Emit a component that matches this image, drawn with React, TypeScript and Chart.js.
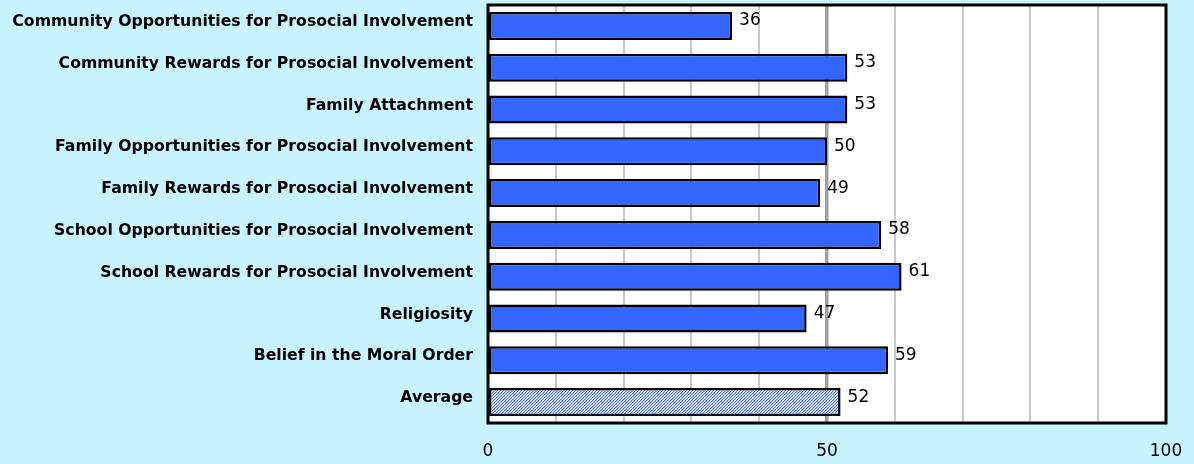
import React, { useEffect, useRef } from "react";
import { Chart, registerables } from "chart.js";

Chart.register(...registerables);

const categories: string[] = [
  "Community Opportunities for Prosocial Involvement",
  "Community Rewards for Prosocial Involvement",
  "Family Attachment",
  "Family Opportunities for Prosocial Involvement",
  "Family Rewards for Prosocial Involvement",
  "School Opportunities for Prosocial Involvement",
  "School Rewards for Prosocial Involvement",
  "Religiosity",
  "Belief in the Moral Order",
  "Average",
];
const values: number[] = [36, 53, 53, 50, 49, 58, 61, 47, 59, 52];
const tickLabels: number[] = [0, 50, 100];
const gridSteps: number[] = [0, 10, 20, 30, 40, 50, 60, 70, 80, 90, 100];

const BG = "#c8f3ff";
const BAR = "#3366ff";
const FONT = "DejaVu Sans";

function makeHatch(): CanvasPattern | string {
  const c = document.createElement("canvas");
  c.width = 3;
  c.height = 3;
  const g = c.getContext("2d");
  if (!g) return "#9fb5ff";
  g.fillStyle = "#ffffff";
  g.fillRect(0, 0, 3, 3);
  for (let i = 0; i < 3; i++) {
    g.fillStyle = "#4470ff";
    g.fillRect(i, 2 - i, 1, 1);
    g.fillStyle = "#b4c6ff";
    g.fillRect((i + 1) % 3, 2 - i, 1, 1);
  }
  const p = g.createPattern(c, "repeat");
  return p || "#9fb5ff";
}

export default function App() {
  const ref = useRef<HTMLCanvasElement | null>(null);

  useEffect(() => {
    document.body.style.margin = "0";
    const canvas = ref.current;
    if (!canvas) return;
    const hatch = makeHatch();
    const colors = values.map((_, i) => (i === values.length - 1 ? hatch : BAR));

    const framePlugin = {
      id: "frame",
      beforeDraw(chart: any) {
        const { ctx, chartArea } = chart;
        ctx.save();
        ctx.fillStyle = "#ffffff";
        ctx.fillRect(chartArea.left, chartArea.top, chartArea.right - chartArea.left, chartArea.bottom - chartArea.top);
        ctx.restore();
      },
      afterDraw(chart: any) {
        const { ctx, chartArea } = chart;
        const { left, top, right, bottom } = chartArea;
        ctx.save();
        ctx.strokeStyle = "#000";
        ctx.lineWidth = 3;
        ctx.strokeRect(left, top, right - left, bottom - top);
        const meta = chart.getDatasetMeta(0);
        ctx.fillStyle = "#000";
        ctx.font = "17px 'DejaVu Sans'";
        ctx.textAlign = "left";
        ctx.textBaseline = "middle";
        meta.data.forEach((el: any, i: number) => {
          ctx.fillText(String(values[i]), el.x + 7, el.y - 5);
        });
        ctx.restore();
      },
    };

    const chart = new Chart(canvas, {
      type: "bar",
      data: {
        labels: categories,
        datasets: [
          {
            data: values,
            backgroundColor: colors as any,
            borderColor: "#000000",
            borderWidth: 2.5,
            borderSkipped: false,
            barPercentage: 0.67,
            categoryPercentage: 1,
          },
        ],
      },
      options: {
        indexAxis: "y",
        animation: false,
        responsive: false,
        maintainAspectRatio: false,
        layout: { padding: { top: 5, right: 28, left: 0, bottom: 0 } },
        plugins: { legend: { display: false }, tooltip: { enabled: false } },
        scales: {
          x: {
            min: 0,
            max: 100,
            border: { display: false },
            afterFit(scale: any) {
              scale.height = 41;
              scale.paddingLeft = 0;
              scale.paddingRight = 0;
            },
            afterBuildTicks(scale: any) {
              scale.ticks = gridSteps.map((v) => ({ value: v }));
            },
            grid: {
              drawTicks: false,
              color: (c: any) => (c.tick && c.tick.value === 50 ? "#a0a0a0" : "#c8c8c8"),
              lineWidth: (c: any) => (c.tick && c.tick.value === 50 ? 3.5 : 2),
            },
            ticks: {
              padding: 18,
              autoSkip: false,
              maxRotation: 0,
              color: "#000",
              font: { family: FONT, size: 17 },
              callback: (v: any) => (tickLabels.includes(Number(v)) ? String(v) : ""),
            },
          },
          y: {
            border: { display: false },
            afterFit(scale: any) {
              scale.width = 488;
              scale.paddingTop = 0;
              scale.paddingBottom = 0;
            },
            grid: { display: false, drawTicks: false },
            ticks: {
              padding: 15,
              labelOffset: -4,
              color: "#000",
              font: { family: FONT, size: 15.7, weight: "bold" },
            },
          },
        },
      },
      plugins: [framePlugin],
    });
    return () => chart.destroy();
  }, []);

  return (
    <div style={{ width: 1194, height: 464, background: BG }}>
      <canvas ref={ref} width={1194} height={464} style={{ display: "block" }} />
    </div>
  );
}
